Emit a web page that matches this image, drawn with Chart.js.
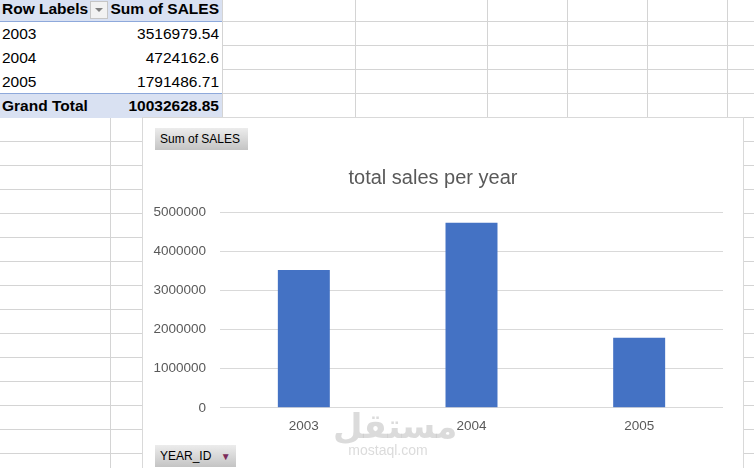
<!DOCTYPE html>
<html>
<head>
<meta charset="utf-8">
<script src="https://cdn.jsdelivr.net/npm/chart.js@4.4.0/dist/chart.umd.min.js"></script>
<style>
  html, body { margin: 0; padding: 0; background: #fff; }
  body { width: 754px; height: 468px; position: relative; overflow: hidden; font-family: "Liberation Sans", Arial, sans-serif; }
  .hline { position: absolute; height: 1px; background: #d4d4d4; }
  .vline { position: absolute; width: 1px; background: #d4d4d4; }
  .pivot { position: absolute; left: 0; top: 0; width: 222px; height: 117px; background: #fff; }
  .pivot .row { position: absolute; left: 0; width: 222px; height: 24px; font-size: 15.5px; line-height: 24px; color: #000; }
  .pivot .row span { position: absolute; }
  .pivot .lab { left: 2px; }
  .pivot .val { right: 3px; }
  .pivot .head { background: #d9e1f2; font-weight: bold; border-bottom: 1px solid #8ea9db; }
  .pivot .total { background: #d9e1f2; font-weight: bold; border-top: 1px solid #8ea9db; }
  .drop { position: absolute; left: 90px; top: 2px; width: 16px; height: 16px; background: #f2f2f2; border: 1px solid #c6c6c6; }
  .drop:after { content: ""; position: absolute; left: 4px; top: 6px; border-left: 4px solid transparent; border-right: 4px solid transparent; border-top: 4px solid #808080; }
  #chartBox { position: absolute; left: 142px; top: 117px; width: 600px; height: 360px; background: #fff; border: 1px solid #d9d9d9; }
  #chartBox canvas { position: absolute; left: 0; top: 0; }
  .fbtn { position: absolute; height: 22px; line-height: 22px; font-size: 12px; color: #000; background: linear-gradient(#ececec, #c4c4c4); padding: 0 5px; box-sizing: border-box; }
  .wm { position: absolute; color: rgba(190,190,190,0.55); text-align: center; }
</style>
</head>
<body>
<div id="grid"></div>
<div class="pivot" id="pivot"></div>
<div id="chartBox">
  <canvas id="salesChart" width="599" height="350"></canvas>
  <div class="fbtn" style="left:12px; top:10px; width:93px;">Sum of SALES</div>
  <div class="fbtn" style="left:12px; top:327px; width:81px;">YEAR_ID <span style="color:#7b2c5b; font-size:10px; margin-left:6px;">&#9660;</span></div>
  <div class="wm" style="left:190px; top:288px; width:110px; font-size:34px; font-weight:bold; font-family:'DejaVu Sans', sans-serif;">مستقل</div>
  <div class="wm" style="left:190px; top:324px; width:110px; font-size:14px;">mostaql.com</div>
</div>
<script>
// pivot data
const years = ['2003', '2004', '2005'];
const sales = [3516979.54, 4724162.6, 1791486.71];
const salesText = ['3516979.54', '4724162.6', '1791486.71'];
const grandTotal = '10032628.85';
const yTicks = [0, 1000000, 2000000, 3000000, 4000000, 5000000];

// sheet gridlines
const grid = document.getElementById('grid');
const colEdges = [110, 222, 355, 487, 567, 647, 727];
colEdges.forEach(x => {
    const d = document.createElement('div');
    d.className = 'vline';
    d.style.left = x + 'px'; d.style.top = '0px'; d.style.height = '468px';
    grid.appendChild(d);
});
for (let y = 21; y < 468; y += 24) {
    const d = document.createElement('div');
    d.className = 'hline';
    d.style.left = '0px'; d.style.top = y + 'px'; d.style.width = '754px';
    grid.appendChild(d);
}

// pivot table
const pivot = document.getElementById('pivot');
function addRow(top, cls, lab, val) {
    const r = document.createElement('div');
    r.className = 'row ' + cls;
    r.style.top = top + 'px';
    r.innerHTML = '<span class="lab">' + lab + '</span><span class="val">' + val + '</span>';
    pivot.appendChild(r);
    return r;
}
const head = addRow(-3, 'head', 'Row Labels', 'Sum of SALES');
const dd = document.createElement('div');
dd.className = 'drop';
dd.style.top = '4px';
head.appendChild(dd);
years.forEach((yr, i) => addRow(22 + i * 24, '', yr, salesText[i]));
addRow(93, 'total', 'Grand Total', grandTotal);

// chart
const ctx = document.getElementById('salesChart');
new Chart(ctx, {
    type: 'bar',
    data: {
        labels: years,
        datasets: [{
            label: 'Total',
            data: sales,
            backgroundColor: '#4472c4',
            categoryPercentage: 1,
            barPercentage: 0.31
        }]
    },
    options: {
        responsive: false,
        animation: false,
        layout: { padding: { left: 0, right: 19, top: 0, bottom: 24 } },
        plugins: {
            legend: { display: false },
            tooltip: { enabled: false },
            title: {
                display: true,
                text: 'total sales per year',
                color: '#595959',
                font: { family: '"Liberation Sans", Arial, sans-serif', size: 20, weight: 'normal' },
                padding: { top: 48, bottom: 22 }
            }
        },
        scales: {
            x: {
                grid: { display: false, drawTicks: false },
                border: { display: false },
                ticks: { color: '#595959', padding: 10, font: { family: '"Liberation Sans", Arial, sans-serif', size: 13.5 } }
            },
            y: {
                min: 0,
                max: 5000000,
                afterBuildTicks: scale => { scale.ticks = yTicks.map(v => ({ value: v })); },
                afterFit: scale => { scale.width = 77; },
                grid: { color: '#d9d9d9', drawTicks: false },
                border: { display: false },
                ticks: {
                    color: '#595959',
                    padding: 14,
                    font: { family: '"Liberation Sans", Arial, sans-serif', size: 13.5 },
                    callback: v => String(v)
                }
            }
        }
    }
});
</script>
</body>
</html>
